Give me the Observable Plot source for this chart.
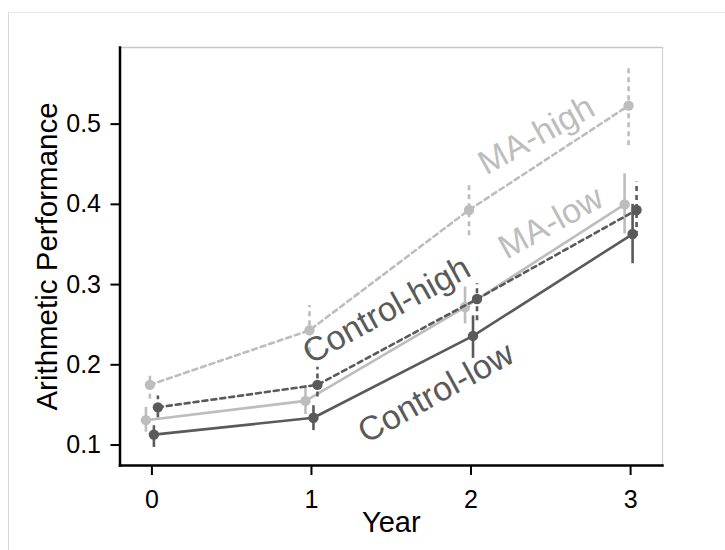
<!DOCTYPE html>
<html><head><meta charset="utf-8">
<script src="https://cdn.jsdelivr.net/npm/d3@7"></script>
<script src="https://cdn.jsdelivr.net/npm/@observablehq/plot@0.6"></script>
<style>
body{margin:0;background:#fff;font-family:"Liberation Sans",Arial,sans-serif;}
#wrap{position:relative;width:725px;height:550px;overflow:hidden;}
#outer{position:absolute;left:8px;top:12px;right:0;bottom:0;border-top:1px solid #e8e8e8;border-left:1px solid #d8d8d8;pointer-events:none;}
</style></head><body><div id="wrap"><div id="outer"></div></div>
<script>
// ---- data ----
const years = [0, 1, 2, 3];
const seriesNames = ["MA-low", "MA-high", "Control-low", "Control-high"];

const maHighMean = [0.175, 0.243, 0.393, 0.523];
const maHighLo   = [0.157, 0.215, 0.361, 0.473];
const maHighHi   = [0.190, 0.274, 0.424, 0.571];

const maLowMean  = [0.131, 0.155, 0.272, 0.400];
const maLowLo    = [0.116, 0.138, 0.251, 0.363];
const maLowHi    = [0.147, 0.174, 0.297, 0.438];

const ctlHighMean = [0.147, 0.175, 0.282, 0.393];
const ctlHighLo   = [0.134, 0.160, 0.255, 0.360];
const ctlHighHi   = [0.161, 0.197, 0.301, 0.428];

const ctlLowMean  = [0.113, 0.134, 0.236, 0.363];
const ctlLowLo    = [0.097, 0.118, 0.208, 0.326];
const ctlLowHi    = [0.124, 0.149, 0.261, 0.400];

const yTicks = [0.1, 0.2, 0.3, 0.4, 0.5];

// ---- build table ----
const LIGHT = "#bdbdbd", DARK = "#5a5a5a";
const src = {
  "MA-low": [maLowMean, maLowLo, maLowHi],
  "MA-high": [maHighMean, maHighLo, maHighHi],
  "Control-low": [ctlLowMean, ctlLowLo, ctlLowHi],
  "Control-high": [ctlHighMean, ctlHighLo, ctlHighHi]
};
const dodgeWidth = 0.1;
const rows = [];
seriesNames.forEach((s, i) => {
  const [m, lo, hi] = src[s];
  years.forEach((yr, j) => rows.push({
    series: s, year: yr,
    xd: yr + (i - (seriesNames.length - 1) / 2) * dodgeWidth / seriesNames.length,
    mean: m[j], lo: lo[j], hi: hi[j],
    high: s.endsWith("high"),
    light: s.startsWith("MA")
  }));
});
const sel = (light, high) => rows.filter(r => r.light === light && r.high === high);

// direct labels (data-space anchors)
const labels = [
  {text: "MA-high", x: 2.41, y: 0.486, light: true},
  {text: "MA-low", x: 2.50, y: 0.377, light: true},
  {text: "Control-high", x: 1.47, y: 0.268, light: false},
  {text: "Control-low", x: 1.78, y: 0.165, light: false}
];

function seriesMarks(light, high) {
  const data = sel(light, high);
  const col = light ? LIGHT : DARK;
  const dash = high ? "5,4" : null;
  return [
    Plot.ruleX(data, {x: "xd", y1: "lo", y2: "hi", stroke: col, strokeWidth: 2.6, strokeDasharray: dash}),
    Plot.line(data, {x: "xd", y: "mean", stroke: col, strokeWidth: 2.6, strokeDasharray: dash}),
    Plot.dot(data, {x: "xd", y: "mean", fill: col, r: 5.2})
  ];
}

const chart = Plot.plot({
  width: 725, height: 550,
  marginLeft: 119.5, marginRight: 63, marginTop: 47, marginBottom: 85,
  style: {fontFamily: "'Liberation Sans', Arial, sans-serif", fontSize: "25px", color: "#000", background: "transparent", overflow: "visible"},
  x: {domain: [-0.2, 3.2]},
  y: {domain: [0.0745, 0.5955]},
  marks: [
    Plot.frame({anchor: "top", stroke: "#c8c8c8", strokeWidth: 1.5}),
    Plot.frame({anchor: "right", stroke: "#d4d4d4", strokeWidth: 1.2}),
    ...seriesMarks(true, false),
    ...seriesMarks(true, true),
    ...seriesMarks(false, false),
    ...seriesMarks(false, true),
    Plot.text(labels, {x: "x", y: "y", text: "text", fill: d => d.light ? LIGHT : DARK, fontSize: 34, rotate: -29, textAnchor: "middle", lineAnchor: "middle"}),
    Plot.axisX({ticks: years, tickFormat: d => String(d), tickSize: 10, tickPadding: 15, strokeWidth: 2, label: null, fontSize: 25}),
    Plot.axisY({ticks: yTicks, tickFormat: d3.format(".1f"), tickSize: 9, tickPadding: 10, strokeWidth: 2, label: null, fontSize: 25}),
    Plot.frame({anchor: "left", stroke: "#000", strokeWidth: 2.5}),
    Plot.frame({anchor: "bottom", stroke: "#000", strokeWidth: 2.5}),
    Plot.text(["Year"], {frameAnchor: "bottom", text: d => d, dy: 66, textAnchor: "middle", lineAnchor: "bottom", fontSize: 29, fill: "#000"}),
    Plot.text(["Arithmetic Performance"], {frameAnchor: "left", text: d => d, rotate: -90, dx: -84, textAnchor: "middle", lineAnchor: "top", fontSize: 29.5, fill: "#000"})
  ]
});
document.getElementById("wrap").appendChild(chart);
chart.style.position = "absolute";
chart.style.left = "0"; chart.style.top = "0";
</script>
</body></html>
